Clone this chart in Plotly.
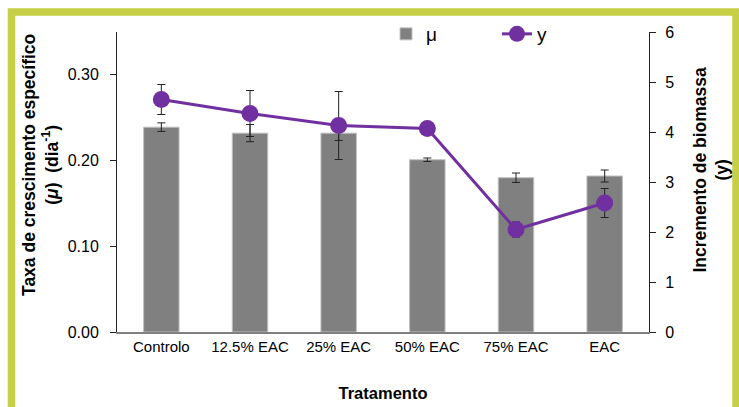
import plotly.graph_objects as go

categories = ["Controlo", "12.5% EAC", "25% EAC", "50% EAC", "75% EAC", "EAC"]
mu_values = [0.239, 0.232, 0.232, 0.201, 0.180, 0.182]
mu_errors = [0.005, 0.010, 0.0085, 0.002, 0.0055, 0.007]
y_values = [4.65, 4.37, 4.13, 4.07, 2.05, 2.58]
y_errors = [0.30, 0.46, 0.68, 0.12, 0.15, 0.29]

left_ticks = [0.0, 0.1, 0.2, 0.3]
left_ticktext = ["0.00", "0.10", "0.20", "0.30"]
right_ticks = [0, 1, 2, 3, 4, 5, 6]

FONT = "Liberation Sans, Arial, sans-serif"
GREEN = "#c6cf45"
GRAY = "#808080"
PURPLE = "#7030a0"

# plot area in pixels
L, R, T, B = 117, 649, 32, 332
W, H = 739, 407


def px_x(p):
    return (p - L) / (R - L)


def px_y(p):
    return (B - p) / (B - T)


fig = go.Figure()
fig.add_trace(go.Bar(
    x=categories, y=mu_values, name="μ",
    marker=dict(color=GRAY, line=dict(color="#c0c0c0", width=1)),
    error_y=dict(type="data", array=mu_errors, color="#222222", thickness=1, width=4),
    yaxis="y",
))
fig.add_trace(go.Scatter(
    x=categories, y=y_values, name="y", mode="lines+markers",
    line=dict(color=PURPLE, width=3),
    marker=dict(color=PURPLE, size=17),
    error_y=dict(type="data", array=y_errors, color="#222222", thickness=1, width=4),
    yaxis="y2",
))

fig.update_layout(
    width=W, height=H,
    margin=dict(l=L, r=W - R, t=T, b=H - B, autoexpand=False),
    paper_bgcolor="white", plot_bgcolor="white",
    font=dict(family=FONT, color="black", size=15),
    bargap=0.6,
    showlegend=True,
    legend=dict(orientation="h", x=px_x(386), y=px_y(15), xanchor="left", yanchor="top",
                font=dict(size=19, family=FONT), entrywidth=66, entrywidthmode="pixels",
                bgcolor="rgba(0,0,0,0)", traceorder="normal"),
    xaxis=dict(
        type="category", showline=True, linecolor=GRAY, linewidth=1.5,
        ticks="", tickfont=dict(size=15), automargin=False,
        title=dict(text="<b>Tratamento</b>", font=dict(size=16.5), standoff=34),
        showgrid=False,
    ),
    yaxis=dict(
        range=[0, 0.35], tickvals=left_ticks, ticktext=left_ticktext,
        showline=True, linecolor="#222222", linewidth=1, automargin=False,
        ticks="outside", ticklen=6, tickcolor="#222222",
        tickfont=dict(size=16), ticklabelstandoff=8,
        showgrid=False, zeroline=False,
    ),
    yaxis2=dict(
        range=[0, 6], tickvals=right_ticks, overlaying="y", side="right",
        showline=True, linecolor="#222222", linewidth=1, automargin=False,
        ticks="outside", ticklen=6, tickcolor="#222222",
        tickfont=dict(size=16), ticklabelstandoff=6,
        showgrid=False, zeroline=False,
    ),
    yaxis3=dict(
        range=[0, 0.35], tickvals=left_ticks, overlaying="y", side="left",
        showticklabels=False, ticks="inside", ticklen=6, tickcolor="#222222",
        showline=False, showgrid=False, zeroline=False, automargin=False,
    ),
    yaxis4=dict(
        range=[0, 6], tickvals=right_ticks, overlaying="y", side="right",
        showticklabels=False, ticks="inside", ticklen=6, tickcolor="#222222",
        showline=False, showgrid=False, zeroline=False, automargin=False,
    ),
    annotations=[
        dict(text="<b>Taxa de crescimento específico<br>(<i>μ</i>)  (dia<sup>-1</sup>)</b>",
             xref="paper", yref="paper", x=px_x(40), y=px_y(165),
             xanchor="center", yanchor="middle", textangle=-90, showarrow=False,
             font=dict(size=17.5, family=FONT)),
        dict(text="<b>Incremento de biomassa<br>(y)</b>",
             xref="paper", yref="paper", x=px_x(710.5), y=px_y(170),
             xanchor="center", yanchor="middle", textangle=-90, showarrow=False,
             font=dict(size=17.5, family=FONT)),
    ],
    shapes=[dict(
        type="rect", xref="paper", yref="paper",
        x0=px_x(11.5), x1=px_x(736), y0=px_y(440), y1=px_y(12),
        line=dict(color=GREEN, width=7.5), fillcolor="rgba(0,0,0,0)", layer="below",
    )],
)

fig.write_html("out.html")
